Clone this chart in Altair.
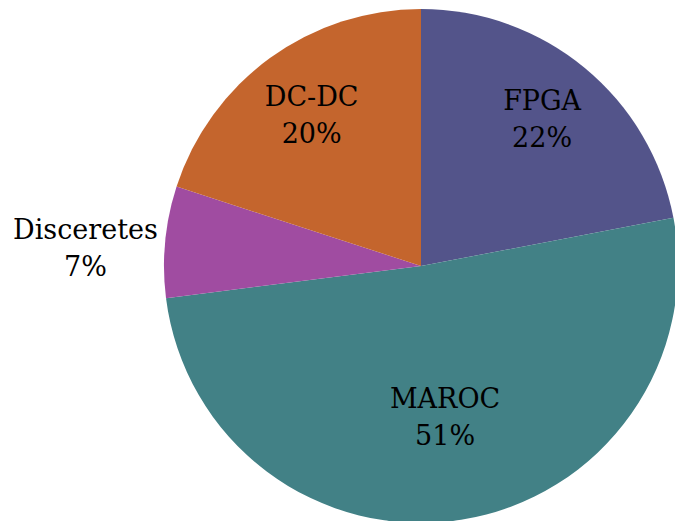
import altair as alt
import pandas as pd

# Share of each component
categories = ["FPGA", "MAROC", "Disceretes", "DC-DC"]
shares = [22, 51, 7, 20]
colors = ["#53548a", "#428186", "#a04ca1", "#c4652d"]
# label distance from the centre for each slice
label_radius = [190, 154, 337, 186]

df = pd.DataFrame({
    "category": categories,
    "share": shares,
    "order": list(range(len(categories))),
    "label": [f"{c}\n{s}%" for c, s in zip(categories, shares)],
    "lr": label_radius,
})

cx, cy, r = 421, 266, 257
angle_scale = alt.Scale(domain=[0, 100], range=[0, 6.283185307])

pie = alt.Chart(df).mark_arc(outerRadius=r, stroke=None).encode(
    theta=alt.Theta("share:Q", stack=True),
    order=alt.Order("order:Q"),
    x=alt.value(cx),
    y=alt.value(cy),
    color=alt.Color("category:N",
                    scale=alt.Scale(domain=categories, range=colors),
                    legend=None),
)


def label_layer(inside, dy):
    # labels sit at the angular midpoint of each slice
    test = f"datum.lr < {r}" if inside else f"datum.lr >= {r}"
    return alt.Chart(df).transform_window(
        cum="sum(share)", sort=[alt.SortField("order")]
    ).transform_calculate(
        mid="datum.cum - datum.share / 2"
    ).transform_filter(test).mark_text(
        font="DejaVu Serif", fontSize=27, color="black",
        lineBreak="\n", lineHeight=37, baseline="middle", align="center",
        dy=dy,
    ).encode(
        theta=alt.Theta("mid:Q", scale=angle_scale, stack=None),
        radius=alt.Radius("lr:Q", scale=None, stack=None),
        x=alt.value(cx),
        y=alt.value(cy),
        text="label:N",
    )


chart = (pie + label_layer(True, -18) + label_layer(False, -3)).properties(
    width=675, height=521,
    autosize=alt.AutoSizeParams(type="none"),
    padding=0,
    background="white",
).configure_view(stroke=None)

chart.save("out.html", embed_options={"renderer": "svg", "actions": False})
